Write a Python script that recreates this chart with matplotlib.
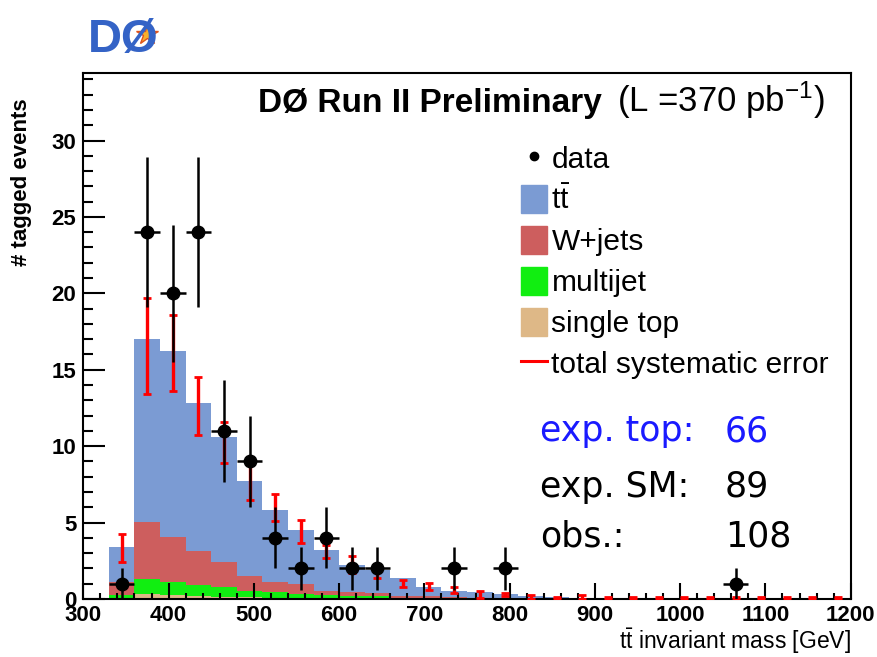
import numpy as np
import matplotlib
matplotlib.use("Agg")
import matplotlib.pyplot as plt
from matplotlib.patches import Patch
from matplotlib.lines import Line2D

plt.rcParams['font.family'] = ['Liberation Sans', 'DejaVu Sans']
plt.rcParams['mathtext.fontset'] = 'custom'
plt.rcParams['mathtext.rm'] = 'Liberation Sans'
plt.rcParams['mathtext.it'] = 'Liberation Sans:italic'
plt.rcParams['mathtext.bf'] = 'Liberation Sans:bold'

# 30 GeV bins from 330 to 1200 GeV
bin_lo = 330
bin_w = 30
n_bins = 29

# observed events per bin
data = [1, 24, 20, 24, 11, 9, 4, 2, 4, 2,
        2, 0, 0, 2, 0, 2, 0, 0, 0,
        0, 0, 0, 0, 0, 1, 0, 0, 0, 0]

# expected contributions per bin (not stacked)
ttbar = [2.27, 11.95, 12.17, 9.64, 8.2, 6.2, 4.67, 3.52, 2.66, 1.75,
         1.53, 1.2, 0.6, 0.4, 0.37, 0.26, 0.19, 0.13, 0.07,
         0.04, 0.03, 0.02, 0.02, 0.01, 0.01, 0.01, 0.01, 0.005, 0.005]
wjets = [0.87, 3.76, 2.9, 2.24, 1.64, 0.98, 0.69, 0.65, 0.28, 0.25,
         0.19, 0.16, 0.16, 0.12, 0.05, 0.04, 0.03, 0.02, 0.01,
         0.01, 0, 0, 0, 0, 0, 0, 0, 0, 0]
multijet = [0.21, 0.99, 0.88, 0.72, 0.61, 0.42, 0.36, 0.27, 0.21, 0.16,
            0.15, 0.02, 0.02, 0.01, 0.01, 0, 0, 0, 0,
            0, 0, 0, 0, 0, 0, 0, 0, 0, 0]
single_top = [0.05, 0.3, 0.25, 0.2, 0.15, 0.1, 0.08, 0.06, 0.05, 0.04,
              0.03, 0.02, 0.02, 0.01, 0.01, 0.01, 0, 0, 0,
              0, 0, 0, 0, 0, 0, 0, 0, 0, 0]

# total systematic band, low / high edge per bin
sys_lo = [2.44, 13.4, 13.6, 10.7, 8.9, 6.5, 5.1, 3.64, 2.68, 1.7,
          1.39, 0.8, 0.59, 0.37, 0.08, 0.2, 0, 0, 0,
          0, 0, 0, 0, 0, 0, 0, 0, 0, 0]
sys_hi = [4.23, 19.7, 18.56, 14.5, 11.6, 8.85, 6.9, 5.16, 3.53, 2.8,
          2.3, 1.24, 1.03, 0.8, 0.52, 0.4, 0.26, 0.15, 0.24,
          0.15, 0.1, 0.1, 0.1, 0.1, 0.1, 0.1, 0.1, 0.1, 0.1]

labels = ['data', r'$\mathrm{t\bar{t}}$', 'W+jets', 'multijet', 'single top',
          'total systematic error']
col_tt = '#7b9bd3'
col_w = '#cd5e5e'
col_mj = '#11ee11'
col_st = '#deb887'

edges = bin_lo + bin_w * np.arange(n_bins + 1)
centres = edges[:-1] + bin_w / 2

top_st = np.array(single_top)
top_mj = top_st + np.array(multijet)
top_w = top_mj + np.array(wjets)
top_tt = top_w + np.array(ttbar)

fig = plt.figure(figsize=(8.78, 6.57), dpi=100)
ax = fig.add_axes([0.0949, 0.0883, 0.8740, 0.8002])

ax.stairs(top_tt, edges, fill=True, color=col_tt, zorder=1)
ax.stairs(top_w, edges, fill=True, color=col_w, zorder=1)
ax.stairs(top_mj, edges, fill=True, color=col_mj, zorder=1)
ax.stairs(top_st, edges, fill=True, color=col_st, zorder=1)

lo = np.array(sys_lo)
hi = np.array(sys_hi)
mid = (lo + hi) / 2
ax.errorbar(centres, mid, yerr=[mid - lo, hi - mid], fmt='none', ecolor='red',
            elinewidth=2.4, capsize=3, capthick=2, zorder=3)

d = np.array(data, dtype=float)
m = d > 0
ax.errorbar(centres[m], d[m], yerr=np.sqrt(d[m]), xerr=bin_w / 2, fmt='o',
            color='black', ms=9, elinewidth=1.8, capsize=0, zorder=4)

ax.set_xlim(300, 1200)
ax.set_ylim(0, 34.4)
ax.set_xticks(np.arange(300, 1201, 100))
ax.set_xticks(np.arange(300, 1201, 20), minor=True)
ax.set_yticks(np.arange(0, 31, 5))
ax.set_yticks(np.arange(0, 35, 1), minor=True)
ax.tick_params(axis='both', which='both', direction='in', width=1.5,
               top=False, right=False, labelsize=16)
ax.tick_params(axis='y', which='major', length=16, pad=5)
ax.tick_params(axis='y', which='minor', length=7.5)
ax.tick_params(axis='x', which='major', length=11.5, pad=4)
ax.tick_params(axis='x', which='minor', length=4.5)
for lab in ax.get_xticklabels() + ax.get_yticklabels():
    lab.set_fontweight('bold')
for s in ax.spines.values():
    s.set_linewidth(1.5)

fig.text(22 / 878, 1 - 182 / 657, '# tagged events', rotation=90,
         ha='center', va='center', fontsize=16, fontweight='bold')
ax.text(1.0, -0.081, r'$\mathrm{t\bar{t}}$ invariant mass [GeV]',
        transform=ax.transAxes, ha='right', va='center', fontsize=16.5)

ax.text(0.2277, 0.926, 'DØ Run II Preliminary', transform=ax.transAxes,
        ha='left', va='baseline', fontsize=24, fontweight='bold')
ax.text(0.695, 0.926, r'(L =370 pb$^{-1}$)', transform=ax.transAxes,
        ha='left', va='baseline', fontsize=25)

handles = [Line2D([], [], marker='o', color='black', ls='none', ms=6),
           Patch(color=col_tt), Patch(color=col_w), Patch(color=col_mj),
           Patch(color=col_st),
           Line2D([], [], color='red', lw=2.2)]
ax.legend(handles, labels, loc='upper left', bbox_to_anchor=(0.570, 0.8655),
          frameon=False, fontsize=21.5, borderpad=0, handlelength=0.88,
          handleheight=1.05, handletextpad=0.15, labelspacing=0.37,
          borderaxespad=0)

ax.text(0.595, 0.3005, 'exp. top:', transform=ax.transAxes, color='#1a1aff',
        fontsize=25, family='DejaVu Sans', va='baseline')
ax.text(0.836, 0.3005, '66', transform=ax.transAxes, color='#1a1aff',
        fontsize=25, family='DejaVu Sans', va='baseline')
ax.text(0.595, 0.194, 'exp. SM:', transform=ax.transAxes, color='black',
        fontsize=25, family='DejaVu Sans', va='baseline')
ax.text(0.836, 0.194, '89', transform=ax.transAxes, color='black',
        fontsize=25, family='DejaVu Sans', va='baseline')
ax.text(0.595, 0.0989, 'obs.:', transform=ax.transAxes, color='black',
        fontsize=25, family='DejaVu Sans', va='baseline')
ax.text(0.836, 0.0989, '108', transform=ax.transAxes, color='black',
        fontsize=25, family='DejaVu Sans', va='baseline')

# logo stand-in
fig.text(88 / 878, 1 - 52 / 657, 'DØ', fontsize=34, fontweight='bold',
         color='#3463c6', va='baseline')
fig.add_artist(Line2D([147 / 878], [1 - 34 / 657], marker='*', ms=16,
                      color='#f7b02a', mec='#e0541c', mew=1,
                      transform=fig.transFigure))

fig.savefig('out.png', dpi=100)
